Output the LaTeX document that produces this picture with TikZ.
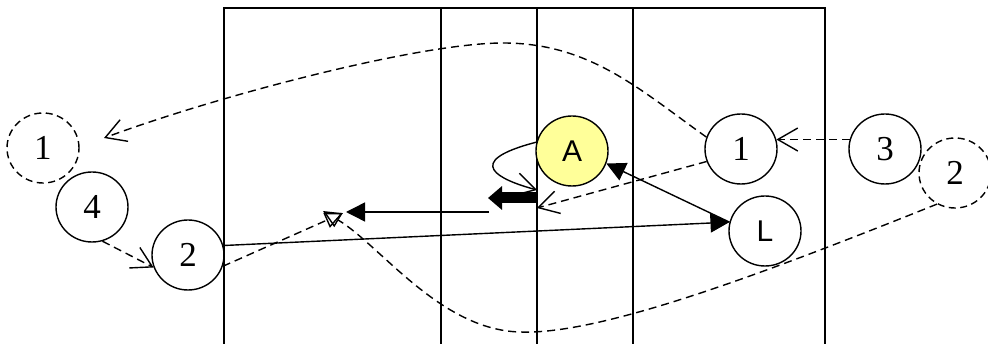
\documentclass[tikz,border=0pt]{standalone}
\usepackage{fontspec}
\setmainfont{Liberation Serif}
\newfontfamily\timesf{Liberation Serif}
\newfontfamily\arialf{Liberation Sans}
\usetikzlibrary{arrows.meta,shapes.geometric}
\definecolor{ayellow}{HTML}{FFFF99}
\tikzset{
  st/.style={draw, ellipse, line width=1.4pt, minimum width=72pt, minimum height=70pt, inner sep=0pt, font=\timesf\fontsize{35}{35}\selectfont},
  dst/.style={st, dash pattern=on 7pt off 4.5pt},
  sans/.style={font=\arialf\fontsize{30}{30}\selectfont},
  frame/.style={line width=1.7pt},
  conn/.style={line width=1.4pt},
  dconn/.style={conn, dash pattern=on 8pt off 5pt},
  vtip/.style={-{Straight Barb[length=20pt,width=23pt,line width=1.4pt]}},
  ftip/.style={-{Triangle[length=19pt,width=19pt]}},
  otip/.style={-{Triangle[open,length=18pt,width=16pt,line width=1.4pt]}},
}
\begin{document}
\begin{tikzpicture}[x=1pt,y=-1pt]
\useasboundingbox (0,0) rectangle (988,344);
% frame
\draw[frame] (224,344) -- (224,8) -- (825,8) -- (825,344);
\draw[frame] (441,8) -- (441,344);
\draw[frame] (537,8) -- (537,344);
\draw[frame] (633,8) -- (633,344);
% nodes
\node[dst] (d1) at (43,148) {1};
\node[st] (n4) at (92,207) {4};
\node[st] (n2) at (188,255) {2};
\node[st, fill=ayellow, sans] (A) at (572,151) {A};
\node[st] (r1) at (741,149) {1};
\node[st, sans] (L) at (765,231) {L};
\node[st] (n3) at (885,149) {3};
\node[dst] (d2) at (955,173) {2};
% free ends
\coordinate (e1) at (104,138);
\coordinate (e2) at (537,208);
\coordinate (e3) at (537,190);
\coordinate (fs) at (537,198);
\coordinate (fe) at (488,198);
\coordinate (hs) at (489,212);
\coordinate (he) at (346,212);
\coordinate (o1) at (343,213);
\coordinate (o2) at (323,211);
% connectors
\draw[dconn, vtip] (r1.161) .. controls (640,90) and (590,43) .. (503,43)
   .. controls (420,43) and (220,95) .. (e1);
\draw[dconn, vtip] (n3.165) -- (r1.15);
\draw[dconn, vtip] (n4.-73) -- (n2.200);
\draw[conn, ftip] (n2.15) -- (L.166);
\draw[conn, ftip] (L.166) -- (A.-20);
\draw[dconn, vtip] (r1.200) -- (e2);
\draw[conn, vtip] (A.166) .. controls (460,162) and (500,180) .. (e3);
\draw[line width=11pt, -{Triangle[length=14pt,width=23pt]}] (fs) -- (fe);
\draw[conn, ftip] (hs) -- (he);
\draw[dconn, otip] (n2.-18) -- (o1);
\draw[dconn, otip] (d2.240) .. controls (760,275) and (600,335) .. (520,332)
   .. controls (440,330) and (380,245) .. (o2);
\end{tikzpicture}
\end{document}
